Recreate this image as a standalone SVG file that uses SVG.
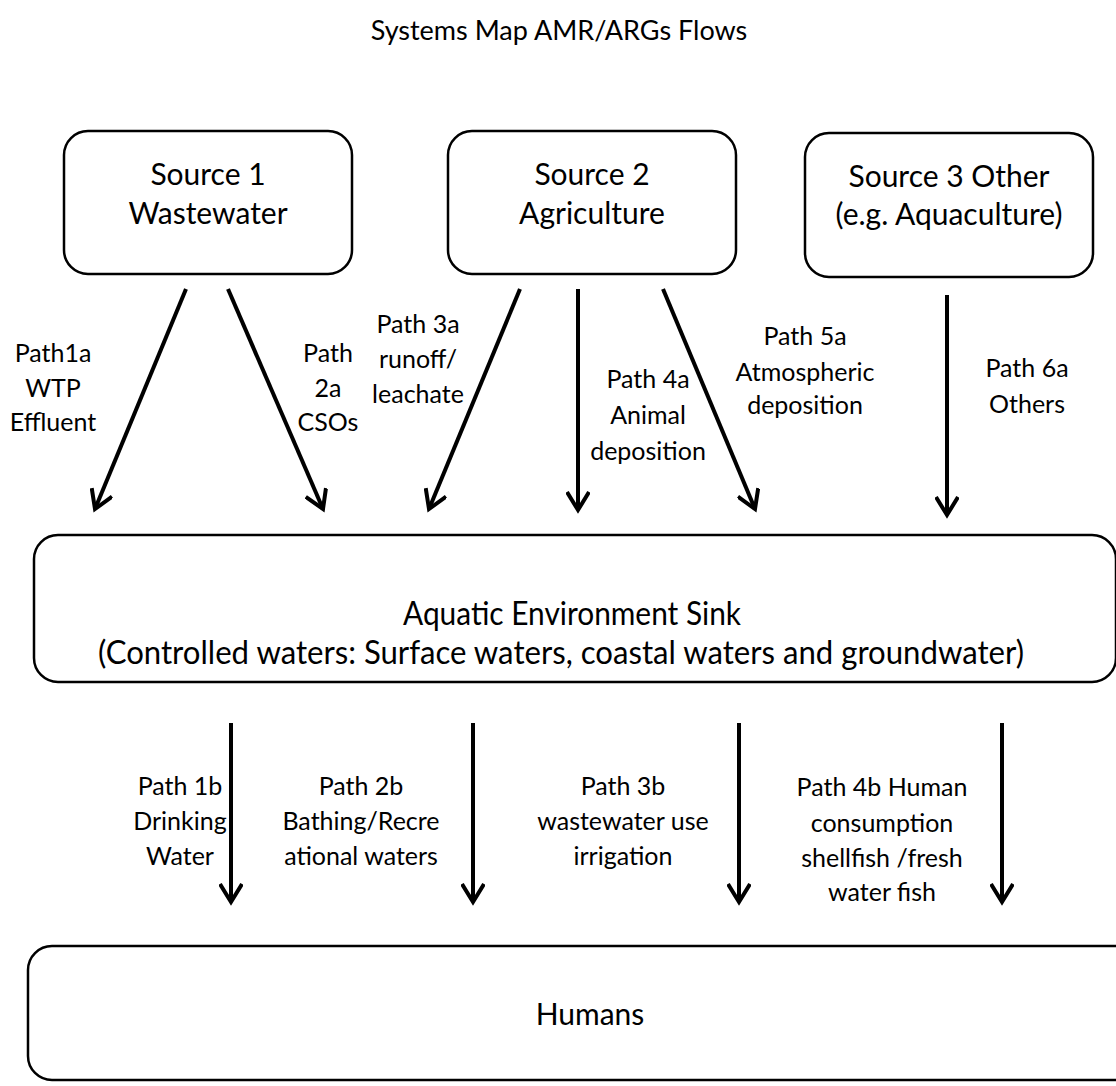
<svg xmlns="http://www.w3.org/2000/svg" width="1116" height="1086" viewBox="0 0 1116 1086">
<style>
.box{fill:#fff;stroke:#000;stroke-width:2.5}
.t{font-family:Lato,"Liberation Sans",sans-serif;font-size:30px;fill:#000;text-anchor:middle;dominant-baseline:central}
.lbl{font-family:Lato,"Liberation Sans",sans-serif;font-size:25px;fill:#000;text-anchor:middle;dominant-baseline:central}
.sk{font-family:Lato,"Liberation Sans",sans-serif;font-size:33px;fill:#000;text-anchor:middle;dominant-baseline:central}
.arr{stroke:#000;stroke-width:4;fill:none;marker-end:url(#ah)}
</style>
<defs>
<marker id="ah" viewBox="0 0 24 24" refX="20" refY="12" markerWidth="24" markerHeight="24" orient="auto" markerUnits="userSpaceOnUse">
<path d="M2,1 L20,12 L2,23" fill="none" stroke="#000" stroke-width="4" stroke-linejoin="miter"/>
</marker>
</defs>
<rect width="1116" height="1086" fill="#fff"/>
<text class="t" x="559" y="29" style="font-size:27px">Systems Map AMR/ARGs Flows</text>

<g id="source1">
<rect class="box" x="64" y="131" width="288" height="143" rx="24"/>
<text class="t" x="208" y="173">Source 1</text>
<text class="t" x="208" y="212">Wastewater</text>
</g>
<g id="source2">
<rect class="box" x="448" y="131" width="288" height="143" rx="24"/>
<text class="t" x="592" y="173">Source 2</text>
<text class="t" x="592" y="212">Agriculture</text>
</g>
<g id="source3">
<rect class="box" x="805" y="133" width="288" height="144" rx="24"/>
<text class="t" x="949" y="175">Source 3 Other</text>
<text class="t" x="949" y="213">(e.g. Aquaculture)</text>
</g>
<g id="sink">
<rect class="box" x="34" y="535" width="1082" height="147" rx="24"/>
<text class="sk" x="572" y="612" textLength="338" lengthAdjust="spacingAndGlyphs">Aquatic Environment Sink</text>
<text class="sk" x="561" y="651" textLength="926" lengthAdjust="spacingAndGlyphs">(Controlled waters: Surface waters, coastal waters and groundwater)</text>
</g>
<g id="humans">
<rect class="box" x="28" y="946" width="1110" height="134" rx="24"/>
<text class="t" x="590" y="1013">Humans</text>
</g>

<g id="connectors">
<line class="arr" x1="186" y1="289" x2="95" y2="509"/>
<line class="arr" x1="228" y1="289" x2="323" y2="509"/>
<line class="arr" x1="520" y1="289" x2="429" y2="509"/>
<line class="arr" x1="578" y1="289" x2="578" y2="510"/>
<line class="arr" x1="663" y1="289" x2="755" y2="509"/>
<line class="arr" x1="947" y1="295" x2="947" y2="515"/>
<line class="arr" x1="231" y1="723" x2="231" y2="902"/>
<line class="arr" x1="473" y1="723" x2="473" y2="902"/>
<line class="arr" x1="739" y1="723" x2="739" y2="902"/>
<line class="arr" x1="1002" y1="723" x2="1002" y2="902"/>
</g>

<g id="labels">
<text class="lbl" x="53" y="352">Path1a</text>
<text class="lbl" x="53" y="387">WTP</text>
<text class="lbl" x="53" y="421">Effluent</text>
<text class="lbl" x="328" y="352">Path</text>
<text class="lbl" x="328" y="387">2a</text>
<text class="lbl" x="328" y="421">CSOs</text>
<text class="lbl" x="418" y="323">Path 3a</text>
<text class="lbl" x="418" y="358">runoff/</text>
<text class="lbl" x="418" y="393">leachate</text>
<text class="lbl" x="648" y="378">Path 4a</text>
<text class="lbl" x="648" y="414">Animal</text>
<text class="lbl" x="648" y="450">deposition</text>
<text class="lbl" x="805" y="335">Path 5a</text>
<text class="lbl" x="805" y="371">Atmospheric</text>
<text class="lbl" x="805" y="404">deposition</text>
<text class="lbl" x="1027" y="367">Path 6a</text>
<text class="lbl" x="1027" y="403">Others</text>
<text class="lbl" x="180" y="785">Path 1b</text>
<text class="lbl" x="180" y="820">Drinking</text>
<text class="lbl" x="180" y="855">Water</text>
<text class="lbl" x="361" y="785">Path 2b</text>
<text class="lbl" x="361" y="820">Bathing/Recre</text>
<text class="lbl" x="361" y="855">ational waters</text>
<text class="lbl" x="623" y="785">Path 3b</text>
<text class="lbl" x="623" y="820">wastewater use</text>
<text class="lbl" x="623" y="855">irrigation</text>
<text class="lbl" x="882" y="786">Path 4b Human</text>
<text class="lbl" x="882" y="822">consumption</text>
<text class="lbl" x="882" y="857">shellfish /fresh</text>
<text class="lbl" x="882" y="891">water fish</text>
</g>
</svg>
